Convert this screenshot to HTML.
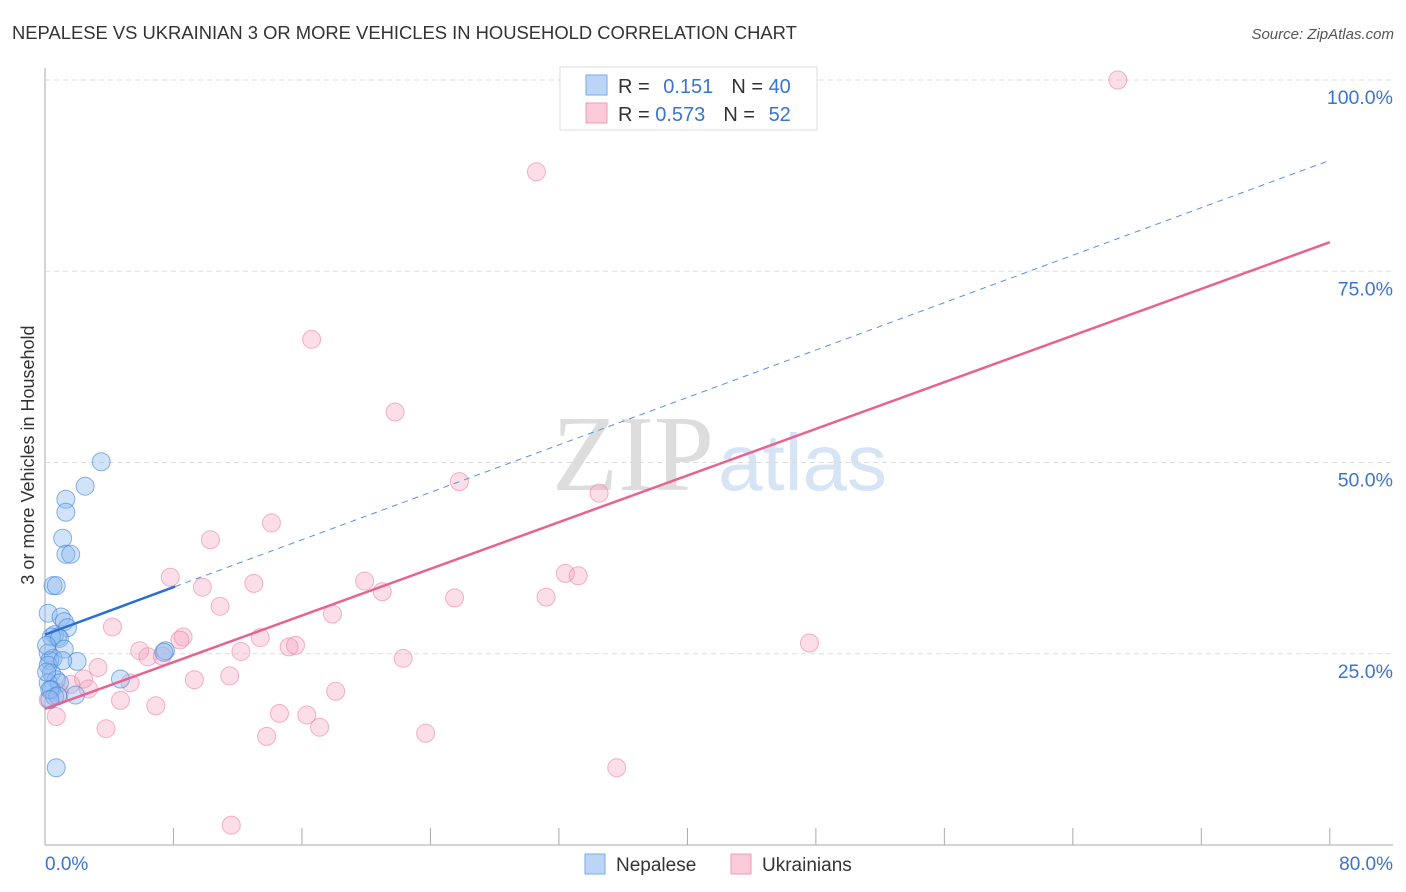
<!DOCTYPE html>
<html><head><meta charset="utf-8"><style>
body{margin:0;background:#fff;font-family:"Liberation Sans",sans-serif}
svg{display:block}
</style></head><body>
<svg id="c" width="1406" height="892" xmlns="http://www.w3.org/2000/svg">
<text x="12" y="39" font-size="18.4" fill="#333">NEPALESE VS UKRAINIAN 3 OR MORE VEHICLES IN HOUSEHOLD CORRELATION CHART</text>
<text x="1394" y="39" font-size="15" fill="#555" font-style="italic" text-anchor="end">Source: ZipAtlas.com</text>
<text x="714" y="490" font-size="108" fill="#ddd" text-anchor="end" font-family="Liberation Serif,serif">ZIP</text>
<text x="718" y="490" font-size="80" fill="#d6e4f5">atlas</text>
<text transform="translate(34,455) rotate(-90)" font-size="18" fill="#333" text-anchor="middle">3 or more Vehicles in Household</text>
<g id="grid"></g><g id="pts"></g><g id="lines"></g>
<g>
<rect x="560" y="67" width="257" height="63" fill="#fff" stroke="#ddd"/>
<rect x="586" y="75" width="21" height="20" fill="#bcd5f7" stroke="#7aa9ea"/>
<rect x="586" y="103" width="21" height="20" fill="#fbcbd9" stroke="#f09ab5"/>
<text x="618" y="93" font-size="20" fill="#333">R = <tspan fill="#3a74d0" dx="8">0.151</tspan><tspan dx="18" fill="#333">N = </tspan><tspan fill="#3a74d0">40</tspan></text>
<text x="618" y="121" font-size="20" fill="#333">R = <tspan fill="#3a74d0">0.573</tspan><tspan dx="18" fill="#333">N = </tspan><tspan fill="#3a74d0" dx="8">52</tspan></text>
</g>
<g>
<rect x="585" y="854" width="20" height="20" fill="#bcd5f7" stroke="#7aa9ea"/>
<text x="616" y="871" font-size="19" fill="#333">Nepalese</text>
<rect x="731" y="854" width="20" height="20" fill="#fbcbd9" stroke="#f09ab5"/>
<text x="762" y="871" font-size="19" fill="#333">Ukrainians</text>
</g>
</svg>
<script>
const yTicks=[25,50,75,100];
const xTickLabels=["0.0%","80.0%"];
const blueX=[3.5,2.5,1.3,1.3,1.1,1.3,1.6,0.5,0.7,0.2,1.0,1.2,1.4,0.6,0.8,0.4,0.9,1.2,0.2,0.5,0.3,2.0,0.2,0.4,0.7,0.2,0.9,0.4,0.6,1.9,4.7,7.5,7.4,0.7,0.3,0.1,0.1,0.8,0.3,1.1];
const blueY=[50.1,46.9,45.2,43.5,40.1,38.0,38.0,33.9,33.9,30.3,29.8,29.2,28.4,27.5,27.2,27.2,27.0,25.6,25.1,24.4,24.1,24.0,23.5,22.5,21.6,21.2,21.2,20.3,19.4,19.6,21.7,25.4,25.2,10.1,20.3,22.6,26.1,19.5,19.0,24.1];
const pinkX=[66.8,30.6,16.6,21.8,25.8,34.5,14.1,10.3,7.8,13.0,9.8,19.9,21.0,10.9,25.5,31.2,17.9,32.4,33.2,4.2,8.6,8.4,5.9,6.4,7.3,13.4,12.2,15.2,15.6,47.6,22.3,3.3,2.4,5.3,9.3,11.5,2.7,18.1,0.9,4.7,6.9,14.6,16.3,17.1,3.8,13.8,23.7,35.6,11.6,0.7,1.6,0.2];
const pinkY=[100,88.0,66.1,56.6,47.5,46.0,42.1,39.9,35.0,34.2,33.7,34.5,33.1,31.2,32.3,32.4,30.2,35.5,35.2,28.5,27.2,26.8,25.4,24.6,24.7,27.1,25.3,25.9,26.1,26.4,24.4,23.2,21.7,21.2,21.6,22.1,20.4,20.1,19.9,18.9,18.2,17.2,17.0,15.4,15.2,14.2,14.6,10.1,2.6,16.8,21.0,19.0];
const pinkFit=[17.8,78.8];
const blueFit=[27.5,89.5], blueSolidEnd=8.1;
const X=v=>45+v*16.06, Y=v=>845-v*7.65;
const NS="http://www.w3.org/2000/svg";
function mk(p,t,a){const e=document.createElementNS(NS,t);for(const k in a)e.setAttribute(k,a[k]);p.appendChild(e);return e;}
const grid=document.getElementById('grid'),pts=document.getElementById('pts'),lines=document.getElementById('lines');
mk(grid,'line',{x1:45,y1:68,x2:45,y2:845,stroke:'#aaa'});
mk(grid,'line',{x1:45,y1:845,x2:1393,y2:845,stroke:'#aaa'});
yTicks.forEach(t=>{
 const g=mk(grid,'line',{x1:45,y1:Y(t),x2:1393,y2:Y(t),stroke:'#ddd','stroke-dasharray':'5,4'});
 
 
 const l=mk(grid,'text',{x:1393,y:Y(t)+24,'font-size':19.5,fill:'#3a74d0','text-anchor':'end'});l.textContent=t.toFixed(1)+'%';
 
 
});
for(let i=0;i<=10;i++){mk(grid,'line',{x1:X(i*8),y1:828,x2:X(i*8),y2:845,stroke:'#aaa'});}
[[0,'start',45],[80,'end',1393]].forEach((d,i)=>{const l=mk(grid,'text',{x:d[2],y:870,'font-size':19,fill:'#3a74d0','text-anchor':d[1]});l.textContent=xTickLabels[i];
 
 });
pinkX.forEach((x,i)=>{const c=mk(pts,'circle',{cx:X(x),cy:Y(pinkY[i]),r:9,fill:'rgba(246,160,190,0.35)',stroke:'rgba(236,130,165,0.6)'});
 
 });
blueX.forEach((x,i)=>{const c=mk(pts,'circle',{cx:X(x),cy:Y(blueY[i]),r:9,fill:'rgba(140,185,240,0.4)',stroke:'rgba(60,130,215,0.6)'});
 
 });
const pl=mk(lines,'line',{x1:X(0),y1:Y(pinkFit[0]),x2:X(80),y2:Y(pinkFit[1]),stroke:'#e8628f','stroke-width':2.5});


const bAt=v=>blueFit[0]+(blueFit[1]-blueFit[0])*v/80;
const bl=mk(lines,'line',{x1:X(0),y1:Y(bAt(0)),x2:X(blueSolidEnd),y2:Y(bAt(blueSolidEnd)),stroke:'#2a6fd6','stroke-width':2.5});


const bd=mk(lines,'line',{x1:X(blueSolidEnd),y1:Y(bAt(blueSolidEnd)),x2:X(80),y2:Y(bAt(80)),stroke:'#5a8fdc','stroke-width':1,'stroke-dasharray':'6,5'});


</script>
</body></html>
